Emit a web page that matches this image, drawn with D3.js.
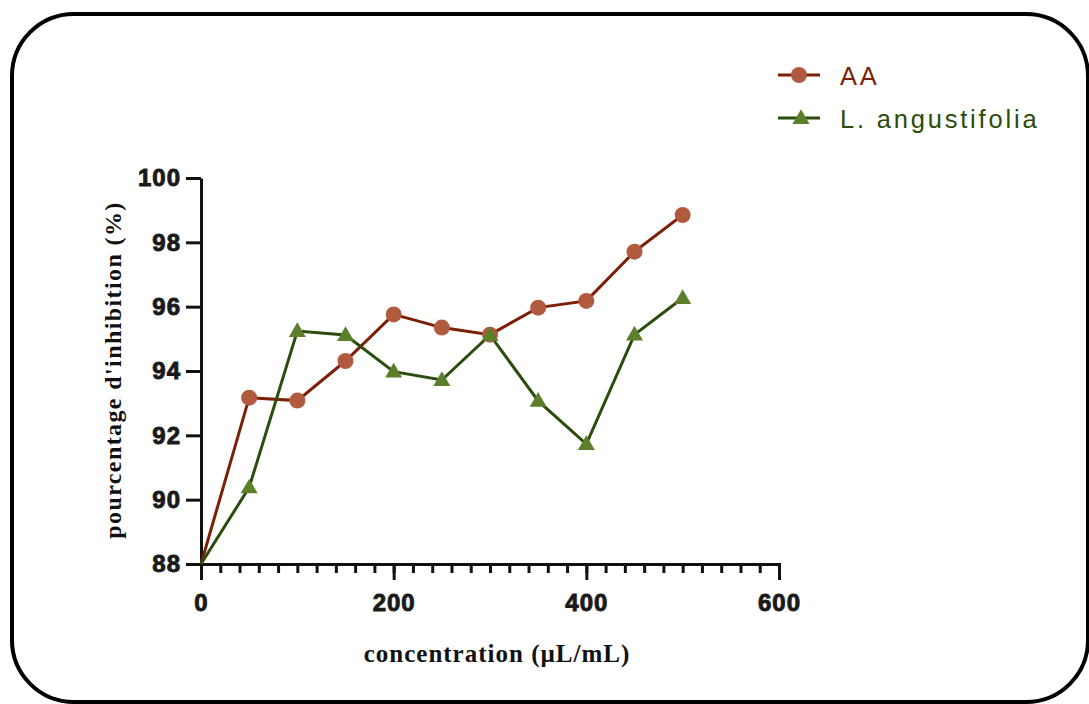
<!DOCTYPE html>
<html lang="en">
	<head>
		<meta charset="utf-8">
		<title>Inhibition vs concentration</title>
		<script src="https://cdn.jsdelivr.net/npm/d3@7"></script>
		<style type="text/css">
			body { margin: 0; background: #fff; }
			.tick text { font-family: "Liberation Sans", Arial, sans-serif; font-weight: bold; font-size: 24px; letter-spacing: 1px; fill: #1a1a1a; stroke: #1a1a1a; stroke-width: 0.9px; }
		</style>
	</head>
	<body>
		<script>
			//Data
			var concentrations = [0, 50, 100, 150, 200, 250, 300, 350, 400, 450, 500];
			var aaValues = [88, 93.17, 93.08, 94.31, 95.76, 95.35, 95.13, 95.97, 96.18, 97.71, 98.85];
			var laValues = [88, 90.38, 95.24, 95.12, 93.98, 93.72, 95.12, 93.07, 91.73, 95.13, 96.27];
			var seriesNames = ["AA", "L. angustifolia"];
			var xTicks = [0, 200, 400, 600];
			var yTicks = [88, 90, 92, 94, 96, 98, 100];

			var w = 1089;
			var h = 704;

			var svg = d3.select("body")
						.append("svg")
						.attr("width", w)
						.attr("height", h);

			//Rounded frame
			svg.append("rect")
				.attr("x", 12)
				.attr("y", 14)
				.attr("width", 1076)
				.attr("height", 688)
				.attr("rx", 62)
				.attr("ry", 62)
				.attr("fill", "none")
				.attr("stroke", "#000")
				.attr("stroke-width", 4);

			//Scales
			var xScale = d3.scaleLinear()
							.domain([0, 600])
							.range([201, 779]);

			var yScale = d3.scaleLinear()
							.domain([88, 100])
							.range([564, 178]);

			//X axis: minor ticks every 20, majors labelled
			var xMinor = d3.range(0, 601, 20);
			svg.append("g")
				.attr("transform", "translate(0,564)")
				.call(d3.axisBottom(xScale).tickValues(xMinor).tickSize(9).tickFormat(""))
				.call(function(g) { g.selectAll("path,line").attr("stroke", "#111").attr("stroke-width", 3); });

			svg.append("g")
				.attr("transform", "translate(0,564)")
				.call(d3.axisBottom(xScale).tickValues(xTicks).tickSize(16).tickPadding(14).tickFormat(d3.format("d")))
				.call(function(g) {
					g.select(".domain").remove();
					g.selectAll("line").attr("stroke", "#111").attr("stroke-width", 3);
				});

			//Y axis
			svg.append("g")
				.attr("transform", "translate(201,0)")
				.call(d3.axisLeft(yScale).tickValues(yTicks).tickSize(15).tickSizeOuter(0).tickPadding(5).tickFormat(d3.format("d")))
				.call(function(g) { g.selectAll("path,line").attr("stroke", "#111").attr("stroke-width", 3); });

			//Axis titles
			svg.append("text")
				.attr("x", 497)
				.attr("y", 662)
				.attr("text-anchor", "middle")
				.attr("font-family", "'Liberation Serif', 'Times New Roman', serif")
				.attr("font-weight", "bold")
				.attr("font-size", 25)
				.attr("letter-spacing", 1)
				.attr("fill", "#111")
				.text("concentration (µL/mL)");

			svg.append("text")
				.attr("transform", "translate(121,370) rotate(-90)")
				.attr("text-anchor", "middle")
				.attr("font-family", "'Liberation Serif', 'Times New Roman', serif")
				.attr("font-weight", "bold")
				.attr("font-size", 24)
				.attr("letter-spacing", 1.4)
				.attr("fill", "#111")
				.text("pourcentage d'inhibition (%)");

			var line = d3.line()
				.x(function(d) { return xScale(d[0]); })
				.y(function(d) { return yScale(d[1]); });

			var aaData = concentrations.map(function(c, i) { return [c, aaValues[i]]; });
			var laData = concentrations.map(function(c, i) { return [c, laValues[i]]; });

			var aaLine = "#7c1f06", aaFill = "#b25a40";
			var laLine = "#2a4c0c", laFill = "#5b7f2a";

			var tri = d3.symbol().type(d3.symbolTriangle).size(125);

			//AA series
			svg.append("path")
				.datum(aaData)
				.attr("d", line)
				.attr("fill", "none")
				.attr("stroke", aaLine)
				.attr("stroke-width", 3);

			//L. angustifolia series
			svg.append("path")
				.datum(laData)
				.attr("d", line)
				.attr("fill", "none")
				.attr("stroke", laLine)
				.attr("stroke-width", 3);

			svg.selectAll("circle.aa")
				.data(aaData.slice(1))
				.enter()
				.append("circle")
				.attr("class", "aa")
				.attr("cx", function(d) { return xScale(d[0]); })
				.attr("cy", function(d) { return yScale(d[1]); })
				.attr("r", 8)
				.attr("fill", aaFill);

			svg.selectAll("path.la")
				.data(laData.slice(1))
				.enter()
				.append("path")
				.attr("class", "la")
				.attr("d", tri)
				.attr("transform", function(d) { return "translate(" + xScale(d[0]) + "," + (yScale(d[1]) + 1) + ")"; })
				.attr("fill", laFill);

			//Legend
			var legend = svg.append("g");
			var legendItems = [
				{ name: seriesNames[0], y: 75, line: aaLine, fill: aaFill, shape: "circle" },
				{ name: seriesNames[1], y: 118, line: laLine, fill: laFill, shape: "triangle" }
			];
			legendItems.forEach(function(item) {
				legend.append("line")
					.attr("x1", 778).attr("x2", 820)
					.attr("y1", item.y).attr("y2", item.y)
					.attr("stroke", item.line)
					.attr("stroke-width", 3);
				if (item.shape === "circle") {
					legend.append("circle")
						.attr("cx", 799).attr("cy", item.y).attr("r", 8)
						.attr("fill", item.fill);
				} else {
					legend.append("path")
						.attr("d", tri)
						.attr("transform", "translate(801," + (item.y + 1) + ")")
						.attr("fill", item.fill);
				}
				legend.append("text")
					.attr("x", 840)
					.attr("y", item.y + 10)
					.attr("font-family", "'Liberation Sans', Arial, sans-serif")
					.attr("font-size", 25.5)
					.attr("letter-spacing", 2.8)
					.attr("fill", item.line)
					.text(item.name);
			});
		</script>
	</body>
</html>
